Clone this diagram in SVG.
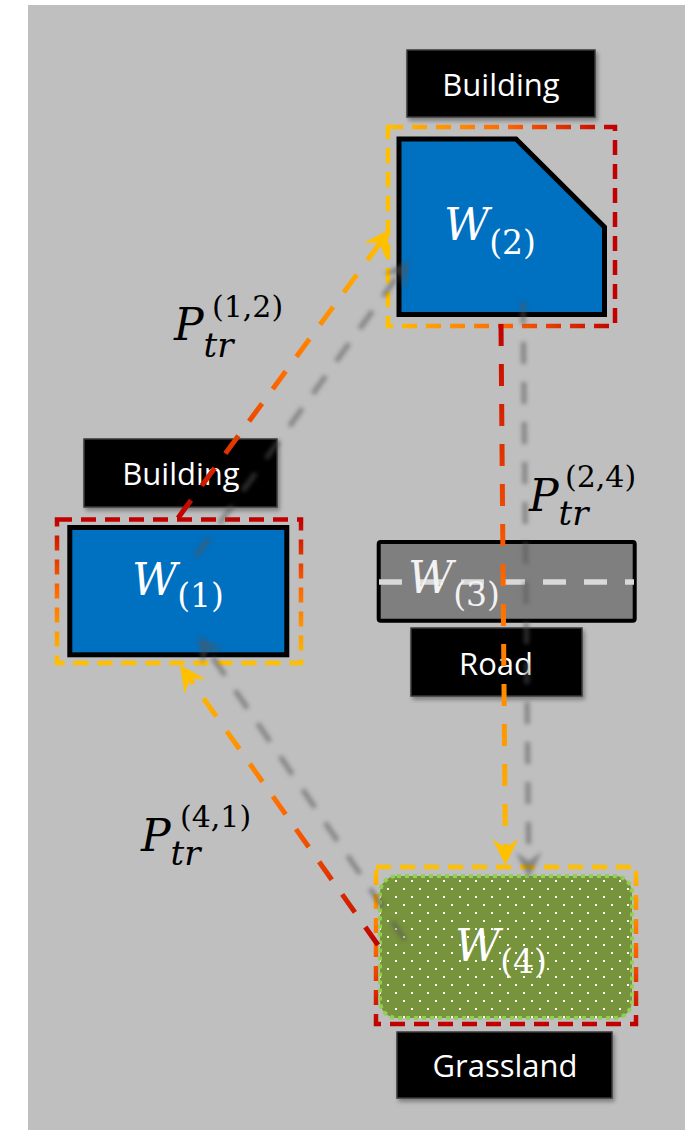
<svg xmlns="http://www.w3.org/2000/svg" width="692" height="1130" viewBox="0 0 692 1130">
<defs>
<style>
.lbl{fill:#000;stroke:#3a3a3a;stroke-width:1.5;filter:url(#ds)}
.lt{font-family:"Open Sans","Liberation Sans",sans-serif;font-size:31px;fill:#fff;text-anchor:middle}
.mi{font-family:"DejaVu Serif","Liberation Serif",serif;font-style:italic;font-size:44px}
.sub{font-style:italic;font-size:34px}
.num{font-style:normal;font-size:30px}
.wn{font-style:normal;font-size:33px}
.blk{fill:#000}
.wht{fill:#fff}
.node{fill:#0070C0;stroke:#000;stroke-width:5;stroke-linejoin:miter}
.bound{fill:none;stroke-width:4.5;stroke-dasharray:15 9}
.conn{fill:none;stroke-width:5;stroke-dasharray:22 18}
.shad{fill:none;stroke:#555;stroke-width:5;stroke-dasharray:22 18}
</style>
<filter id="ds" x="-10%" y="-10%" width="130%" height="140%"><feDropShadow dx="2" dy="3" stdDeviation="2" flood-color="#000" flood-opacity="0.35"/></filter>
<filter id="blur" x="-20%" y="-20%" width="140%" height="140%"><feGaussianBlur stdDeviation="2"/></filter>
<linearGradient id="gH" x1="0" y1="0" x2="1" y2="0"><stop offset="0" stop-color="#FFC000"/><stop offset="0.5" stop-color="#FF6A00"/><stop offset="1" stop-color="#C00000"/></linearGradient>
<linearGradient id="gVry" x1="0" y1="0" x2="0" y2="1"><stop offset="0" stop-color="#C00000"/><stop offset="0.5" stop-color="#FF6A00"/><stop offset="1" stop-color="#FFC000"/></linearGradient>
<linearGradient id="gVyr" x1="0" y1="0" x2="0" y2="1"><stop offset="0" stop-color="#FFC000"/><stop offset="0.5" stop-color="#FF6A00"/><stop offset="1" stop-color="#C00000"/></linearGradient>
<linearGradient id="c12" gradientUnits="userSpaceOnUse" x1="178" y1="518" x2="383" y2="239"><stop offset="0" stop-color="#C00000"/><stop offset="0.5" stop-color="#FF6A00"/><stop offset="1" stop-color="#FFC000"/></linearGradient>
<linearGradient id="c24" gradientUnits="userSpaceOnUse" x1="501" y1="324" x2="505" y2="853"><stop offset="0" stop-color="#C00000"/><stop offset="0.5" stop-color="#FF6A00"/><stop offset="1" stop-color="#FFC000"/></linearGradient>
<linearGradient id="c41" gradientUnits="userSpaceOnUse" x1="378" y1="945" x2="187" y2="675"><stop offset="0" stop-color="#C00000"/><stop offset="0.5" stop-color="#FF6A00"/><stop offset="1" stop-color="#FFC000"/></linearGradient>
<pattern id="dots" width="16" height="16" patternUnits="userSpaceOnUse" x="563" y="888"><rect width="16" height="16" fill="#77933C"/><rect x="0" y="0" width="2" height="2" fill="#fff"/><rect x="8" y="8" width="2" height="2" fill="#fff"/></pattern>
<marker id="ah" viewBox="-16 -15 30 30" refX="0" refY="0" markerWidth="30" markerHeight="30" markerUnits="userSpaceOnUse" orient="auto"><path d="M12,0 L-14,-13 L-5,0 L-14,13 Z" fill="#FFC000"/></marker>
<marker id="ahs" viewBox="-16 -15 30 30" refX="0" refY="0" markerWidth="30" markerHeight="30" markerUnits="userSpaceOnUse" orient="auto"><path d="M12,0 L-14,-13 L-5,0 L-14,13 Z" fill="#555"/></marker>
</defs>
<rect x="0" y="0" width="692" height="1130" fill="#fff"/>
<rect x="28" y="5" width="657" height="1125" fill="#BFBFBF"/>

<g id="node-w2">
<rect class="lbl" x="407" y="50" width="188" height="67"/>
<text class="lt" x="501" y="96">Building</text>
<rect class="bound" x="388" y="127" width="227" height="199" stroke="url(#gH)"/>
<polygon class="node" points="399,139 516,139 604.5,227 604.5,314.5 399,314.5"/>
<text class="mi wht" x="444" y="240">W<tspan class="wn" dy="14">(2)</tspan></text>
</g>

<g id="node-w1">
<rect class="lbl" x="84" y="439" width="193" height="68"/>
<text class="lt" x="181" y="485">Building</text>
<rect class="bound" x="57" y="519.5" width="244" height="143.5" stroke="url(#gVry)"/>
<rect class="node" x="69.8" y="527.5" width="217" height="127.3"/>
<text class="mi wht" x="132" y="595">W<tspan class="wn" dy="12">(1)</tspan></text>
</g>

<g id="node-w3">
<rect x="378.7" y="542" width="256" height="78.7" rx="2" fill="#7F7F7F" stroke="#000" stroke-width="4"/>
<line x1="379" y1="582" x2="634" y2="582" stroke="#D9D9D9" stroke-width="5.5" stroke-dasharray="23 18"/>
<text class="mi" x="408" y="593" fill="#F2F2F2">W<tspan class="wn" dy="13">(3)</tspan></text>
<rect class="lbl" x="411" y="628" width="171" height="68"/>
<text class="lt" x="496" y="675">Road</text>
</g>

<g id="node-w4">
<rect class="bound" x="376" y="867" width="260" height="157" stroke="url(#gVyr)"/>
<rect x="380" y="876" width="252" height="142" rx="17" fill="url(#dots)" stroke="#92D050" stroke-width="4" stroke-dasharray="4 4"/>
<text class="mi wht" x="455" y="961">W<tspan class="wn" dy="12">(4)</tspan></text>
<rect class="lbl" x="397" y="1032" width="215" height="66"/>
<text class="lt" x="505" y="1077">Grassland</text>
</g>

<g id="connectors">
<g id="shadows" opacity="0.55" filter="url(#blur)">
<path class="shad" d="M196,556 L402,270" marker-end="url(#ahs)"/>
<path class="shad" d="M523,302 L528.8,866" marker-end="url(#ahs)"/>
<path class="shad" d="M405,940 L205,646" marker-end="url(#ahs)"/>
</g>
<path class="conn" d="M178,518 L383,239" stroke="url(#c12)" marker-end="url(#ah)"/>
<path class="conn" d="M501,324 L505.4,853" stroke="url(#c24)" marker-end="url(#ah)"/>
<path class="conn" d="M378,945 L187,675" stroke="url(#c41)" marker-end="url(#ah)"/>
</g>

<g id="labels">
<text class="mi blk" x="174" y="340">P<tspan class="sub" dy="17">tr</tspan><tspan class="num" x="212" y="317">(1,2)</tspan></text>
<text class="mi blk" x="529" y="511">P<tspan class="sub" dy="14">tr</tspan><tspan class="num" x="565" y="487">(2,4)</tspan></text>
<text class="mi blk" x="141" y="851">P<tspan class="sub" dy="14">tr</tspan><tspan class="num" x="180" y="827">(4,1)</tspan></text>
</g>
</svg>
